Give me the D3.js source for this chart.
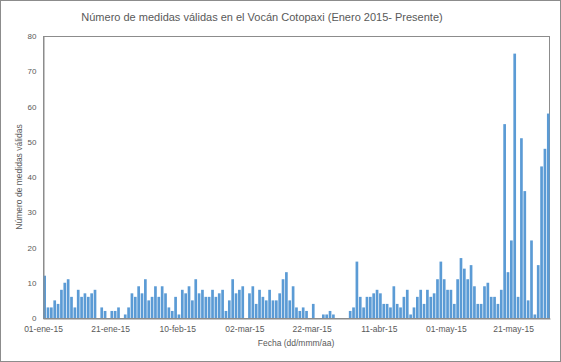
<!DOCTYPE html>
<html>
<head>
<meta charset="utf-8">
<script src="https://cdn.jsdelivr.net/npm/d3@7"></script>
<style>
  body { margin: 0; background: #fff; }
  svg { display: block; font-family: "Liberation Sans", Arial, sans-serif; }
</style>
</head>
<body>
<script>
// daily counts, one array per month (2015)
var enero   = [12,3,3,5,4,8,10,11,6,3,8,6,7,6,7,8,0,3,2,0,2,2,3,0,1,3,7,6,9,7,11];
var febrero = [5,6,9,6,9,7,3,2,6,1,8,7,9,5,11,7,8,6,6,8,6,7,8,2,5,11,7,8];
var marzo   = [9,0,7,9,4,8,6,5,8,5,5,7,11,13,5,9,3,2,3,2,0,4,0,0,1,1,2,1,0,0,0];
var abril   = [0,2,3,16,6,3,6,6,7,8,7,4,4,3,9,4,3,6,8,1,3,6,8,4,8,6,7,11,16,11];
var mayo    = [8,8,4,11,17,14,11,15,9,4,4,9,10,6,6,4,8,55,13,22,75,6,51,36,5,22,1,15,43,48,58];

var yTicks = [0,10,20,30,40,50,60,70,80];
var meses = ["ene","feb","mar","abr","may","jun","jul","ago","sep","oct","nov","dic"];

var w = 561;
var h = 362;
const margin = {top: 36, bottom: 44, left: 43, right: 11};

// build one row per day
var dataList = [];
[enero, febrero, marzo, abril, mayo].forEach(function(month, m) {
  month.forEach(function(v, i) {
    dataList.push({fecha: new Date(Date.UTC(2015, m, i + 1)), valor: v});
  });
});

var start = new Date(Date.UTC(2015, 0, 1));
var end = new Date(Date.UTC(2015, 5, 1));

var xScale = d3.scaleUtc()
               .domain([start, end])
               .range([margin.left, w - margin.right]);

var yScale = d3.scaleLinear()
               .domain([0, 80])
               .range([h - margin.bottom, margin.top]);

var svg = d3.select("body")
            .append("svg")
            .attr("width", w)
            .attr("height", h);

// outer chart frame
svg.append("rect")
   .attr("x", 0.5).attr("y", 0.5)
   .attr("width", w - 1).attr("height", h - 1)
   .attr("fill", "white")
   .attr("stroke", "#8c8c8c");

// plot area frame
svg.append("rect")
   .attr("x", margin.left + 0.5)
   .attr("y", margin.top + 0.5)
   .attr("width", w - margin.left - margin.right - 1)
   .attr("height", h - margin.top - margin.bottom)
   .attr("fill", "none")
   .attr("stroke", "#8c8c8c");

var dayW = xScale(new Date(Date.UTC(2015, 0, 2))) - xScale(start);

// bars
svg.selectAll(".bar")
   .data(dataList.filter(function(d) { return d.valor > 0; }))
   .enter()
   .append("rect")
   .attr("class", "bar")
   .attr("x", function(d) { return xScale(d.fecha) + 0.3; })
   .attr("width", dayW * 0.8)
   .attr("y", function(d) { return yScale(d.valor); })
   .attr("height", function(d) { return yScale(0) - yScale(d.valor); })
   .attr("fill", "#5b9bd5");

// y axis
const yAxis = d3.axisLeft(yScale)
                .tickValues(yTicks)
                .tickSize(0)
                .tickPadding(7);

var gy = svg.append("g")
            .attr("transform", "translate(" + (margin.left + 0.5) + ",0)")
            .call(yAxis);
gy.select(".domain").attr("stroke", "#8c8c8c");
gy.selectAll("text").attr("fill", "#595959").attr("font-size", "8px");

// x axis, a label every 20 days
var xTickVals = d3.utcDay.range(start, end, 1).filter(function(d, i) { return i % 20 === 0; });

const xAxis = d3.axisBottom(xScale)
                .tickValues(xTickVals)
                .tickSize(0)
                .tickPadding(7)
                .tickFormat(function(d) {
                  return d3.utcFormat("%d")(d) + "-" + meses[d.getUTCMonth()] + "-" + d3.utcFormat("%y")(d);
                });

var gx = svg.append("g")
            .attr("transform", "translate(0," + (h - margin.bottom + 0.5) + ")")
            .call(xAxis);
gx.select(".domain").attr("stroke", "#8c8c8c");
gx.selectAll("text").attr("fill", "#595959").attr("font-size", "8.5px");

// title
svg.append("text")
   .attr("x", 262)
   .attr("y", 21)
   .attr("text-anchor", "middle")
   .attr("fill", "#595959")
   .attr("font-size", "11px")
   .text("Número de medidas válidas en el Vocán Cotopaxi (Enero 2015- Presente)");

// y axis title
svg.append("text")
   .attr("transform", "translate(22," + ((margin.top + h - margin.bottom) / 2) + ") rotate(-90)")
   .attr("text-anchor", "middle")
   .attr("fill", "#595959")
   .attr("font-size", "8.5px")
   .text("Número  de medidas válidas");

// x axis title
svg.append("text")
   .attr("x", 296)
   .attr("y", 346)
   .attr("text-anchor", "middle")
   .attr("fill", "#595959")
   .attr("font-size", "8.5px")
   .text("Fecha (dd/mmm/aa)");
</script>
</body>
</html>
